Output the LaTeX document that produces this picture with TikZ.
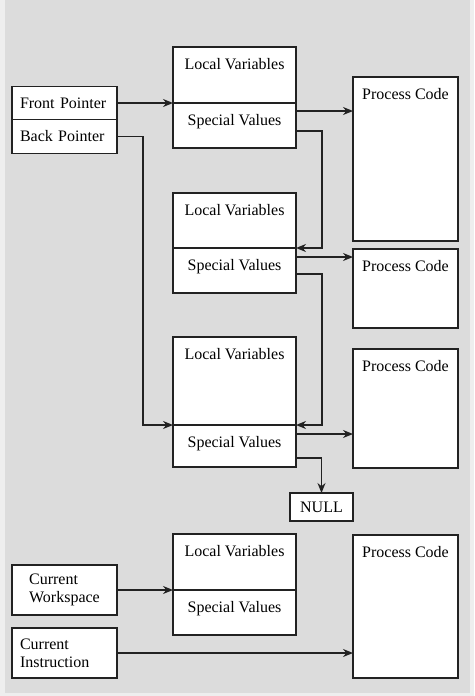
\documentclass[tikz,border=0pt]{standalone}
\usepackage{fontspec}
\setmainfont{Liberation Serif}
\usetikzlibrary{positioning,calc,arrows.meta}

\definecolor{panel}{HTML}{DCDCDC}
\definecolor{rim}{HTML}{EEEEEE}
\definecolor{ink}{HTML}{222222}

\tikzset{
  slot/.style={draw=ink, fill=white, line width=1.2pt, inner sep=0pt, outer sep=0pt,
    minimum width=123pt, text height=22pt, text depth=#1},
  codebox/.style={slot=#1, minimum width=105pt},
  ptr/.style={draw=ink, fill=white, line width=1.2pt, inner ysep=0pt, outer sep=0pt,
    minimum width=105pt, align=left},
  lptr/.style={ptr, text width=89pt, inner xsep=8pt},
  cell/.style={draw=ink, fill=white, line width=1.2pt, inner sep=0pt, outer sep=0pt,
    minimum width=63pt, minimum height=28pt},
  link/.style={draw=ink, line width=1.5pt, -{Stealth[length=10pt,width=8pt]}}
}

\begin{document}
\begin{tikzpicture}[font=\fontsize{16}{18}\selectfont]
        % backdrop
        \fill[rim] (0,0) rectangle (474pt,-696pt);
        \fill[panel] (5pt,0) rectangle (470pt,-693pt);

        % workspace chain
        \node[slot=34pt, anchor=north west] (lv1) at (173pt,-47pt) {Local Variables};
        \node[slot=23pt, below=0pt of lv1] (sv1) {Special Values};
        \node[slot=33pt, below=45pt of sv1] (lv2) {Local Variables};
        \node[slot=23pt, below=0pt of lv2] (sv2) {Special Values};
        \node[slot=66pt, below=44pt of sv2] (lv3) {Local Variables};
        \node[slot=20pt, below=0pt of lv3] (sv3) {Special Values};
        \node[cell, anchor=north] (null) at ($(sv3.south east)+(25.5pt,-26pt)$) {NULL};

        % code blocks
        \node[codebox=142pt, anchor=north west] (pc1) at ($(lv1.north east)+(57pt,-30pt)$) {Process Code};
        \node[codebox=57pt, below=8pt of pc1] (pc2) {Process Code};
        \node[codebox=97pt, below=21pt of pc2] (pc3) {Process Code};

        % queue pointers
        \node[lptr, minimum height=33pt, left=56pt of sv1.north west] (fp) {Front Pointer};
        \node[lptr, minimum height=34pt, below=0pt of fp] (bp) {Back Pointer};

        % current process
        \node[slot=34pt, below=67pt of sv3] (lv4) {Local Variables};
        \node[slot=23pt, below=0pt of lv4] (sv4) {Special Values};
        \node[codebox=121pt, anchor=north west] (pc4) at ($(lv4.north east)+(57pt,-1pt)$) {Process Code};
        \node[ptr, minimum height=50pt, left=56pt of sv4.north west] (cw) {Current\\Workspace};
        \node[lptr, minimum height=50pt, below=13pt of cw] (ci) {Current\\Instruction};

        % taps on the special values
        \coordinate (o1) at ($(sv1.north east)+(0,-8pt)$);
        \coordinate (o2) at ($(sv2.north east)+(0,-9pt)$);
        \coordinate (o3) at ($(sv3.north east)+(0,-9pt)$);
        \coordinate (n1) at ($(sv1.north east)+(0,-28pt)$);
        \coordinate (n2) at ($(sv2.north east)+(0,-26pt)$);
        \coordinate (n3) at ($(sv3.north east)+(0,-33pt)$);

        \draw[link] (fp.east) -- (sv1.north west);
        \draw[link] (bp.east) -- ++(26pt,0) |- (sv3.north west);
        \draw[link] (o1) -- (o1 -| pc1.west);
        \draw[link] (o2) -- (o2 -| pc2.west);
        \draw[link] (o3) -- (o3 -| pc3.west);
        \draw[link] (n1) -- ++(26pt,0) |- (sv2.north east);
        \draw[link] (n2) -- ++(26pt,0) |- (sv3.north east);
        \draw[link] (n3) -| (null.north);
        \draw[link] (cw.east) -- (sv4.north west);
        \draw[link] (ci.east) -- (ci.east -| pc4.west);
\end{tikzpicture}
\end{document}
